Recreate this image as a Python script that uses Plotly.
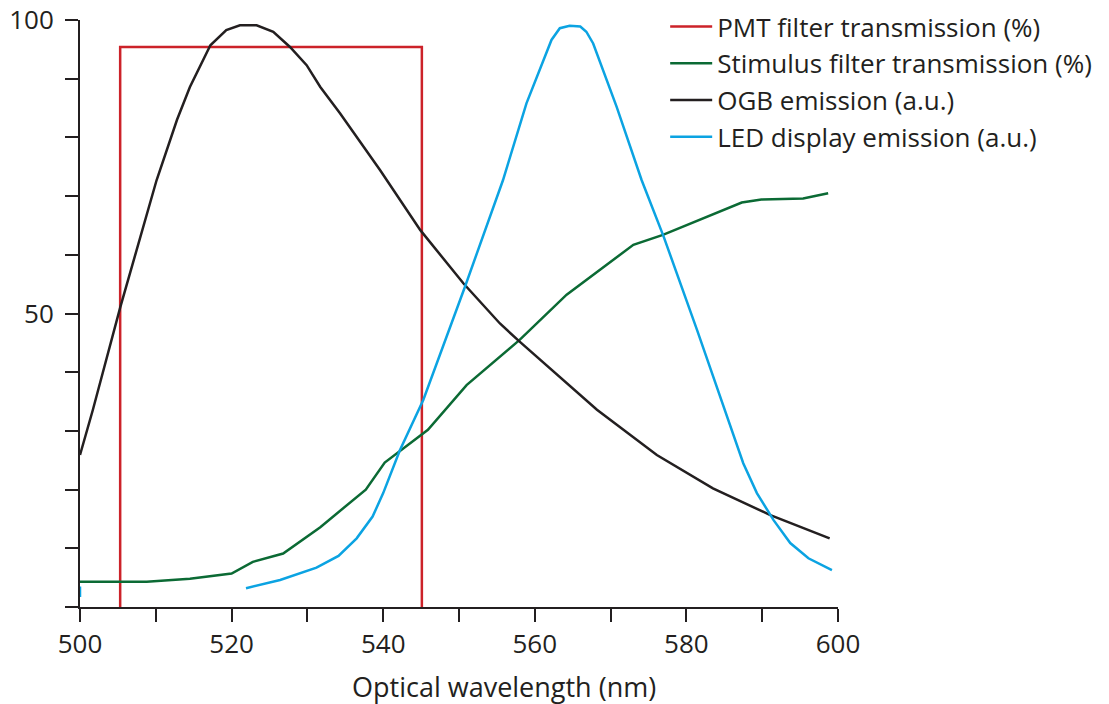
import plotly.graph_objects as go

# ---- data ----
pmt_wl = [505.3, 505.3, 545.1, 545.1]
pmt = [0, 95.4, 95.4, 0]

stim_wl = [500, 508.8, 514.5, 520.0, 522.8, 526.8, 531.7, 537.7, 540.2, 545.9, 551.0,
           558.0, 564.2, 573.0, 576.9, 587.3, 589.9, 595.4, 598.7]
stim = [4.3, 4.3, 4.8, 5.7, 7.7, 9.1, 13.6, 20.0, 24.6, 30.2, 37.8,
        45.5, 53.2, 61.7, 63.4, 68.9, 69.4, 69.6, 70.5]

ogb_wl = [500, 501.7, 505.3, 510.1, 512.8, 514.5, 517.2, 519.3, 521.1, 523.3, 525.5,
          527.7, 529.9, 531.7, 534.3, 539.6, 544.9, 550.6, 555.4, 558.0, 568.2,
          576.1, 583.5, 591.0, 598.9]
ogb = [25.9, 33.6, 51, 72.7, 83, 88.6, 95.7, 98.3, 99.1, 99.1, 98,
       95.4, 92.3, 88.6, 84.1, 74.4, 64.2, 55.1, 48.3, 45.2, 33.6,
       25.9, 20.2, 15.7, 11.7]

led_wl = [500, 500, None, 521.9, 526.4, 531.2, 534.1, 536.5, 538.6, 540.0, 542.2, 545.3,
          550.8, 555.8, 558.9, 562.2, 563.3, 564.6, 566.0, 566.8, 567.7, 570.8,
          574.1, 577.0, 581.4, 587.5, 589.3, 591.5, 593.7, 596.1, 599.2]
led = [1.7, 3.5, None, 3.2, 4.6, 6.7, 8.7, 11.7, 15.4, 19.4, 26.7, 35.3,
       54.6, 72.7, 85.8, 96.6, 98.6, 99.0, 98.9, 98, 96, 85.2,
       72.7, 63.1, 47.2, 24.5, 19.4, 14.8, 10.9, 8.3, 6.3]

x_ticks = [500, 510, 520, 530, 540, 550, 560, 570, 580, 590, 600]
x_labels = ["500", "", "520", "", "540", "", "560", "", "580", "", "600"]
y_ticks = [0, 10, 20, 30, 40, 50, 60, 70, 80, 90, 100]
y_labels = ["", "", "", "", "", "50", "", "", "", "", "100"]

names = ["PMT filter transmission (%)", "Stimulus filter transmission (%)",
         "OGB emission (a.u.)", "LED display emission (a.u.)"]

RED = "#cc2229"
GREEN = "#0b6a34"
BLACK = "#231f20"
BLUE = "#0ba3e2"
FONT = "Open Sans"

fig = go.Figure()
fig.add_trace(go.Scatter(x=pmt_wl, y=pmt, mode="lines", name=names[0],
                         line=dict(color=RED, width=2.5)))
fig.add_trace(go.Scatter(x=stim_wl, y=stim, mode="lines", name=names[1],
                         line=dict(color=GREEN, width=2.5)))
fig.add_trace(go.Scatter(x=ogb_wl, y=ogb, mode="lines", name=names[2],
                         line=dict(color=BLACK, width=2.5)))
fig.add_trace(go.Scatter(x=led_wl, y=led, mode="lines", name=names[3],
                         line=dict(color=BLUE, width=2.5), connectgaps=False))

fig.update_layout(
    width=1109, height=704,
    margin=dict(l=80, r=271, t=20, b=97, autoexpand=False),
    paper_bgcolor="white", plot_bgcolor="white",
    font=dict(family=FONT, size=26, color=BLACK),
    showlegend=True,
    legend=dict(x=0.772, y=1.029, xanchor="left", yanchor="top",
                font=dict(size=26, color=BLACK), itemwidth=42,
                tracegroupgap=0, bgcolor="rgba(0,0,0,0)"),
    xaxis=dict(range=[500, 600], tickvals=x_ticks, ticktext=x_labels,
               showgrid=False, zeroline=False, showline=True, linecolor=BLACK,
               linewidth=2, ticks="outside", ticklen=13, tickwidth=2,
               tickcolor=BLACK, ticklabelstandoff=0, automargin=False,
               tickfont=dict(size=26, color=BLACK)),
    yaxis=dict(range=[0, 100], tickvals=y_ticks, ticktext=y_labels,
               showgrid=False, zeroline=False, showline=True, linecolor=BLACK,
               linewidth=2, ticks="outside", ticklen=13, tickwidth=2,
               tickcolor=BLACK, ticklabelstandoff=6, automargin=False,
               tickfont=dict(size=26, color=BLACK)),
    annotations=[dict(text="Optical wavelength (nm)", xref="paper", yref="paper",
                      x=0.559, y=-0.136, xanchor="center", yanchor="middle",
                      showarrow=False, font=dict(size=27, color=BLACK))],
)

fig.write_html("out.html")
